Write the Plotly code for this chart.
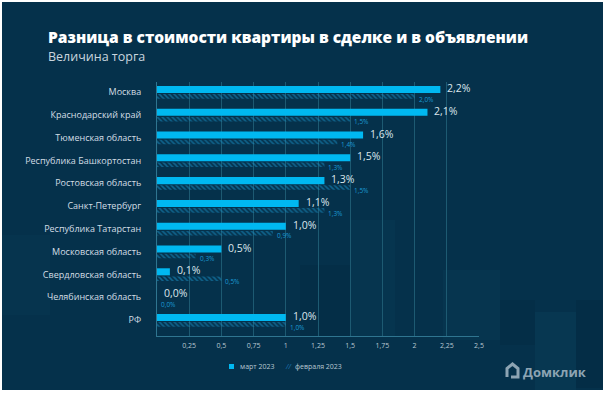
import plotly.graph_objects as go

categories = ["Москва", "Краснодарский край", "Тюменская область", "Республика Башкортостан",
              "Ростовская область", "Санкт-Петербург", "Республика Татарстан", "Московская область",
              "Свердловская область", "Челябинская область", "РФ"]
march_2023 = [2.2, 2.1, 1.6, 1.5, 1.3, 1.1, 1.0, 0.5, 0.1, 0.0, 1.0]
feb_2023 = [2.0, 1.5, 1.4, 1.3, 1.5, 1.3, 0.9, 0.3, 0.5, 0.0, 1.0]
tick_vals = [0.25, 0.5, 0.75, 1, 1.25, 1.5, 1.75, 2, 2.25, 2.5]
tick_text = ["0,25", "0,5", "0,75", "1", "1,25", "1,5", "1,75", "2", "2,25", "2,5"]

W, H = 606, 393
L, R, T, B = 157, 479, 82, 336
BG = "#05314b"
CYAN = "#00b8f1"
HATCH = "#1a9ad3"
FONT = "Open Sans"


def px(x):
    return (x - L) / (R - L)


def py(y):
    return (B - y) / (B - T)


def fmt(v):
    return f"{v:.1f}".replace(".", ",") + "%"


fig = go.Figure()
fig.add_trace(go.Bar(
    name="март 2023", y=categories, x=march_2023, orientation="h",
    marker=dict(color=CYAN, line=dict(width=0)),
    width=0.31, offset=-0.27, showlegend=False, hoverinfo="skip",
))
fig.add_trace(go.Bar(
    name="февраля 2023", y=categories, x=feb_2023, orientation="h",
    marker=dict(color="rgba(0,0,0,0)", line=dict(width=0),
                pattern=dict(shape="\\", fgcolor=HATCH, bgcolor="rgba(0,0,0,0)",
                             size=3.5, solidity=0.45)),
    width=0.2, offset=0.09, showlegend=False, hoverinfo="skip",
))

annotations = []
for c, v in zip(categories, march_2023):
    annotations.append(dict(x=v, y=c, xref="x", yref="y", text=fmt(v), showarrow=False,
                            xanchor="left", yanchor="middle", xshift=5, yshift=4,
                            font=dict(family=FONT, size=10.5, color="#dce6ec")))
for c, v in zip(categories, feb_2023):
    annotations.append(dict(x=v, y=c, xref="x", yref="y", text=fmt(v), showarrow=False,
                            xanchor="left", yanchor="middle", xshift=2, yshift=-7,
                            font=dict(family=FONT, size=6.5, color=HATCH)))

# title / subtitle
annotations.append(dict(x=px(46), y=py(37), xref="paper", yref="paper",
                        text="Разница в стоимости квартиры в сделке и в объявлении",
                        showarrow=False, xanchor="left", yanchor="middle",
                        font=dict(family=FONT, size=15.5, color="#ffffff", weight=800)))
annotations.append(dict(x=px(46), y=py(57), xref="paper", yref="paper",
                        text="Величина торга", showarrow=False, xanchor="left", yanchor="middle",
                        font=dict(family=FONT, size=12.5, color="#c9d6df")))
# legend
annotations.append(dict(x=px(238), y=py(366), xref="paper", yref="paper", text="март 2023",
                        showarrow=False, xanchor="left", yanchor="middle",
                        font=dict(family=FONT, size=7, color="#b9c8d2")))
annotations.append(dict(x=px(283), y=py(366), xref="paper", yref="paper", text="<i>//</i>",
                        showarrow=False, xanchor="left", yanchor="middle",
                        font=dict(family=FONT, size=7, color="#1f78b8")))
annotations.append(dict(x=px(293), y=py(366), xref="paper", yref="paper", text="февраля 2023",
                        showarrow=False, xanchor="left", yanchor="middle",
                        font=dict(family=FONT, size=7, color="#b9c8d2")))
# logo
annotations.append(dict(x=px(521), y=py(372), xref="paper", yref="paper", text="<b>Домклик</b>",
                        showarrow=False, xanchor="left", yanchor="middle",
                        font=dict(family=FONT, size=13, color="#8da4b3")))

shapes = []


def rect(x0, y0, x1, y1, color, layer="below"):
    shapes.append(dict(type="rect", xref="paper", yref="paper",
                       x0=px(x0), x1=px(x1), y0=py(y1), y1=py(y0),
                       fillcolor=color, line=dict(width=0), layer=layer))


# subtle background blocks
rect(0, 235, 50, 315, "#06344e")
rect(140, 140, 158, 290, "#06344e")
rect(300, 265, 350, 336, "#042e47")
rect(350, 220, 395, 336, "#06354f")
rect(443, 270, 500, 340, "#06354f")
rect(500, 300, 535, 345, "#042e47")
rect(535, 312, 576, 390, "#073751")
rect(576, 300, 604, 388, "#042d46")

# legend square
rect(229, 364, 234, 369, CYAN, layer="above")

# logo icon
pts = [(507, 377), (507, 368.5), (512.5, 364), (518, 368.5), (518, 377), (511, 377)]
path = "M " + " L ".join(f"{px(a):.5f},{py(b):.5f}" for a, b in pts)
shapes.append(dict(type="path", xref="paper", yref="paper", path=path,
                   line=dict(color="#8da4b3", width=3), layer="above"))

# white frame edges
rect(0, 0, 2, 393, "#ffffff", layer="above")
rect(0, 0, 606, 2, "#ffffff", layer="above")
rect(603, 0, 606, 393, "#ffffff", layer="above")
rect(0, 390, 606, 393, "#ffffff", layer="above")

fig.update_layout(
    width=W, height=H,
    margin=dict(l=L, r=W - R, t=T, b=H - B, pad=0),
    paper_bgcolor=BG, plot_bgcolor="rgba(0,0,0,0)",
    barmode="overlay",
    showlegend=False,
    hovermode=False,
    annotations=annotations,
    shapes=shapes,
    xaxis=dict(range=[0, 2.5], tickvals=tick_vals, ticktext=tick_text,
               showgrid=True, gridcolor="#1d5a72", gridwidth=1,
               showline=True, linecolor="#2f7590", linewidth=1,
               zeroline=False, ticks="", ticklabelstandoff=3, automargin=False,
               tickfont=dict(family=FONT, size=7, color="#b9c8d2"), fixedrange=True),
    yaxis=dict(type="category", categoryorder="array", categoryarray=categories,
               range=[10.7, -0.44], showgrid=False,
               showline=True, linecolor="#2f7590", linewidth=1,
               ticks="", ticklabelstandoff=13, automargin=False,
               tickfont=dict(family=FONT, size=9, color="#d3dee5"), fixedrange=True),
    font=dict(family=FONT),
)

fig.write_html("out.html", config={"displayModeBar": False, "staticPlot": True},
               post_script="document.body.style.margin='0';document.body.style.overflow='hidden';")
